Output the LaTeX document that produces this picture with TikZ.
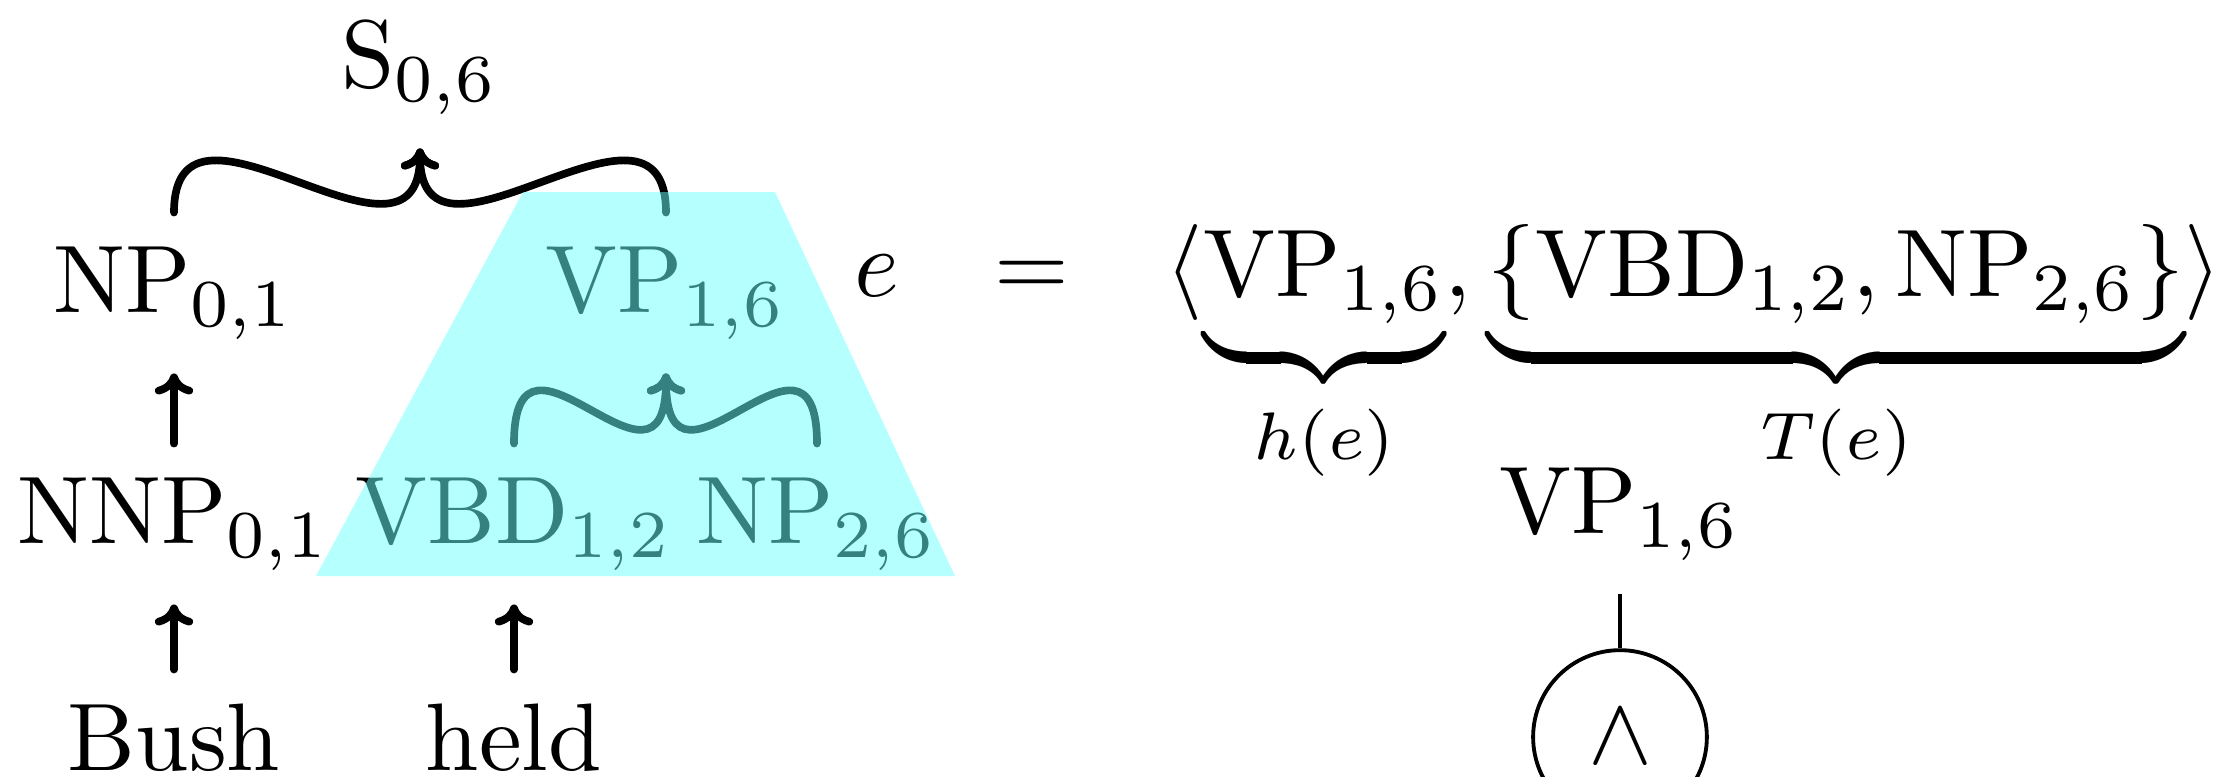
\documentclass[tikz,border=0pt]{standalone}
\usetikzlibrary{arrows.meta}
\definecolor{hl}{rgb}{0.42,1,1}
\begin{document}
\begin{tikzpicture}[x=0.104167pt,y=-0.104167pt,
  lbl/.style={anchor=base},
  edge/.style={thick,-{To[length=2.2pt,width=4pt]},line cap=round},
  thinedge/.style={line width=0.4pt}]
\useasboundingbox (0,0) rectangle (2228,776);
\clip (0,0) rectangle (2228,776);
% tree
\node[lbl] (S) at (420,87) {S$_{0,6}$};
\node[lbl] (NP) at (174,312) {NP$_{0,1}$};
\node[lbl] (VP) at (666,312) {VP$_{1,6}$};
\node[lbl] (NNP) at (174,543) {NNP$_{0,1}$};
\node[lbl] (VBD) at (514,543) {VBD$_{1,2}$};
\node[lbl] (NPb) at (817,543) {NP$_{2,6}$};
\node[lbl] (bush) at (174,770) {Bush};
\node[lbl] (held) at (514,770) {held};
\draw[edge] (NP.north) .. controls +(0,-150) and +(0,150) .. (S.south);
\draw[edge] (VP.north) .. controls +(0,-150) and +(0,150) .. (S.south);
\draw[edge] (VBD.north) .. controls +(0,-150) and +(0,150) .. (VP.south);
\draw[edge] (NPb.north) .. controls +(0,-150) and +(0,150) .. (VP.south);
\draw[edge] (NNP.north) -- (NP.south);
\draw[edge] (bush.north) -- (NNP.south);
\draw[edge] (held.north) -- (VBD.south);
% highlight
\fill[hl, fill opacity=0.5] (316,576) -- (523,192) -- (775,192) -- (955,576) -- cycle;
% right part
\node[lbl] (e) at (877,296) {$e$};
\node[lbl] (eq) at (1032,296) {$=$};
\node[anchor=base west, inner sep=0pt] (tup) at (1164,296)
  {$\langle\underbrace{\mathrm{VP}_{1,6}}_{h(e)}, \underbrace{\{\mathrm{VBD}_{1,2}, \mathrm{NP}_{2,6}\}}_{T(e)}\rangle$};
\node[lbl] (vp2) at (1620,533) {VP$_{1,6}$};
\node[circle, draw, thinedge, minimum size=18.1pt, inner sep=0pt] (and) at (1620,737) {$\wedge$};
\draw[thinedge] (vp2.south) -- (and.north);
\end{tikzpicture}
\end{document}
